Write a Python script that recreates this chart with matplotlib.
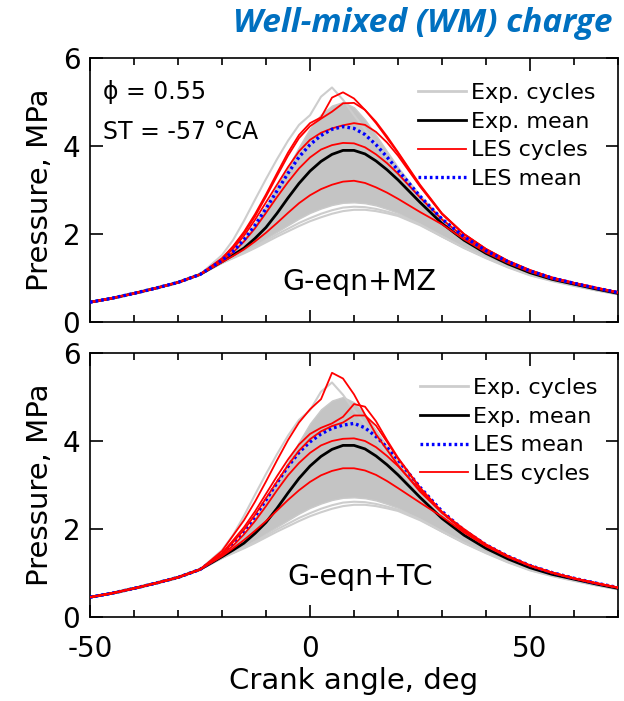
import matplotlib.pyplot as plt
from matplotlib.lines import Line2D
from matplotlib.ticker import MultipleLocator

plt.rcParams["axes.unicode_minus"] = False

# crank angle grid, deg
ca = [-50, -45, -40, -35, -30, -25, -20, -17.5, -15, -12.5, -10, -7.5, -5, -2.5,
      0, 2.5, 5, 7.5, 10, 12.5, 15, 17.5, 20, 25, 30, 35, 40, 45, 50, 55, 60, 65, 70]

# compression stroke, common to every cycle (-50 .. -25 deg), MPa
p_comp = [0.45, 0.54, 0.65, 0.77, 0.90, 1.08]

# everything below: values at -20 .. 70 deg, MPa
# experiment (same cycles in both panels)
exp_mean = [1.37, 1.52, 1.68, 1.90, 2.15, 2.47, 2.82, 3.15, 3.43, 3.65, 3.81, 3.90, 3.90, 3.82,
            3.66, 3.46, 3.23, 2.72, 2.24, 1.86, 1.56, 1.32, 1.12, 0.97, 0.86, 0.75, 0.65]
exp_band_hi = [1.42, 1.62, 1.90, 2.25, 2.65, 3.08, 3.52, 3.98, 4.40, 4.72, 4.92, 5.00, 4.88, 4.60,
               4.25, 3.88, 3.52, 2.88, 2.36, 1.94, 1.62, 1.37, 1.16, 1.00, 0.88, 0.77, 0.67]
exp_band_lo = [1.35, 1.48, 1.60, 1.74, 1.90, 2.05, 2.20, 2.35, 2.48, 2.58, 2.66, 2.71, 2.72, 2.70,
               2.65, 2.57, 2.48, 2.22, 1.94, 1.69, 1.47, 1.27, 1.09, 0.95, 0.84, 0.73, 0.64]
exp_top_cycle = [1.52, 1.86, 2.30, 2.78, 3.25, 3.70, 4.12, 4.48, 4.70, 5.12, 5.33, 5.05, 4.70, 4.38,
                 4.05, 3.72, 3.40, 2.78, 2.28, 1.88, 1.58, 1.34, 1.14, 0.98, 0.87, 0.76, 0.66]
exp_low_cycle_1 = [1.34, 1.45, 1.56, 1.68, 1.81, 1.94, 2.06, 2.18, 2.29, 2.38, 2.46, 2.52, 2.55, 2.55,
                   2.52, 2.47, 2.41, 2.20, 1.94, 1.68, 1.45, 1.24, 1.06, 0.93, 0.82, 0.72, 0.63]
exp_low_cycle_2 = [1.35, 1.46, 1.58, 1.71, 1.85, 1.99, 2.12, 2.25, 2.36, 2.46, 2.54, 2.60, 2.62, 2.61,
                   2.57, 2.51, 2.44, 2.22, 1.95, 1.69, 1.46, 1.25, 1.07, 0.94, 0.83, 0.72, 0.63]

# LES, G-eqn+MZ
les_mean_mz = [1.40, 1.60, 1.87, 2.20, 2.58, 2.98, 3.38, 3.75, 4.03, 4.24, 4.38, 4.44, 4.40, 4.26,
               4.03, 3.75, 3.45, 2.86, 2.34, 1.94, 1.62, 1.37, 1.16, 1.00, 0.88, 0.77, 0.67]
les_mz_1 = [1.45, 1.72, 2.05, 2.45, 2.90, 3.38, 3.85, 4.25, 4.52, 4.65, 5.10, 5.22, 5.08, 4.82,
            4.52, 4.18, 3.84, 3.10, 2.46, 2.00, 1.66, 1.39, 1.18, 1.01, 0.89, 0.78, 0.68]
les_mz_2 = [1.44, 1.70, 2.02, 2.40, 2.85, 3.32, 3.78, 4.18, 4.45, 4.62, 4.78, 4.97, 4.98, 4.82,
            4.55, 4.22, 3.86, 3.12, 2.47, 2.00, 1.66, 1.39, 1.18, 1.01, 0.89, 0.78, 0.68]
les_mz_3 = [1.42, 1.66, 1.96, 2.32, 2.72, 3.12, 3.52, 3.88, 4.14, 4.30, 4.40, 4.47, 4.52, 4.48,
            4.32, 4.08, 3.78, 3.08, 2.45, 1.99, 1.65, 1.38, 1.17, 1.01, 0.89, 0.78, 0.68]
les_mz_4 = [1.40, 1.58, 1.83, 2.13, 2.48, 2.84, 3.18, 3.49, 3.74, 3.92, 4.02, 4.07, 4.06, 3.97,
            3.81, 3.61, 3.37, 2.83, 2.33, 1.93, 1.62, 1.37, 1.16, 1.00, 0.88, 0.77, 0.67]
les_mz_5 = [1.36, 1.50, 1.65, 1.83, 2.03, 2.25, 2.48, 2.70, 2.88, 3.02, 3.12, 3.19, 3.21, 3.16,
            3.06, 2.94, 2.80, 2.50, 2.22, 1.88, 1.58, 1.34, 1.14, 0.98, 0.87, 0.76, 0.66]

# LES, G-eqn+TC
les_mean_tc = [1.42, 1.68, 1.95, 2.28, 2.66, 3.05, 3.42, 3.74, 3.98, 4.16, 4.29, 4.36, 4.40, 4.30,
               4.10, 3.86, 3.57, 2.95, 2.40, 1.97, 1.64, 1.38, 1.17, 1.01, 0.88, 0.77, 0.67]
les_tc_1 = [1.50, 1.85, 2.20, 2.62, 3.08, 3.56, 4.02, 4.42, 4.72, 4.95, 5.55, 5.42, 5.06, 4.60,
            4.15, 3.80, 3.45, 2.85, 2.37, 2.00, 1.65, 1.38, 1.17, 1.01, 0.88, 0.77, 0.67]
les_tc_2 = [1.45, 1.74, 2.04, 2.40, 2.80, 3.20, 3.58, 3.92, 4.16, 4.30, 4.40, 4.55, 4.84, 4.78,
            4.45, 4.02, 3.62, 2.94, 2.39, 1.97, 1.64, 1.38, 1.17, 1.01, 0.88, 0.77, 0.67]
les_tc_3 = [1.43, 1.70, 1.98, 2.32, 2.70, 3.08, 3.45, 3.78, 4.04, 4.22, 4.34, 4.42, 4.58, 4.58,
            4.35, 3.98, 3.60, 2.93, 2.38, 1.96, 1.64, 1.38, 1.17, 1.01, 0.88, 0.77, 0.67]
les_tc_4 = [1.41, 1.62, 1.88, 2.18, 2.52, 2.88, 3.22, 3.50, 3.73, 3.90, 4.00, 4.05, 4.06, 4.00,
            3.86, 3.66, 3.43, 2.88, 2.37, 1.95, 1.63, 1.38, 1.17, 1.01, 0.88, 0.77, 0.67]
les_tc_5 = [1.38, 1.56, 1.75, 1.96, 2.18, 2.42, 2.66, 2.88, 3.07, 3.22, 3.32, 3.38, 3.38, 3.33,
            3.23, 3.09, 2.93, 2.60, 2.28, 1.92, 1.61, 1.36, 1.16, 1.00, 0.87, 0.76, 0.66]


def full(p):
    return p_comp + p


def draw_panel(ax, les_mean, les_cycles, model, red_on_top):
    ax.fill_between(ca, full(exp_band_lo), full(exp_band_hi), color="#c4c4c4",
                    edgecolor="#c9c9c9", lw=1.0, zorder=1)
    for c in (exp_low_cycle_1, exp_low_cycle_2, exp_top_cycle):
        ax.plot(ca, full(c), color="#cdcdcd", lw=1.5, zorder=2)
    ax.plot(ca, full(exp_mean), color="black", lw=2.0, zorder=3)
    zr, zb = (5, 4) if red_on_top else (4, 5)
    for c in les_cycles:
        ax.plot(ca, full(c), color="red", lw=1.3, zorder=zr)
    ax.plot(ca, full(les_mean), color="blue", lw=2.4, ls=(0, (0.8, 0.9)), zorder=zb)

    ax.set_xlim(-50, 70)
    ax.set_ylim(0, 6)
    ax.set_xticks([-50, 0, 50])
    ax.xaxis.set_minor_locator(MultipleLocator(10))
    ax.set_yticks([0, 2, 4, 6])
    ax.tick_params(which="both", direction="in", top=True, right=True, width=1.2,
                   labelsize=20, pad=7)
    ax.tick_params(axis="x", which="both", pad=13)
    ax.tick_params(which="major", length=9)
    ax.tick_params(which="minor", length=5)
    for s in ax.spines.values():
        s.set_linewidth(1.2)
    ax.set_ylabel("Pressure, MPa", fontsize=21, labelpad=6)
    ax.text(0.511, 0.152, model, transform=ax.transAxes, fontsize=20.5,
            ha="center", va="center")


fig = plt.figure(figsize=(6.24, 7.01), dpi=100)
ax1 = fig.add_axes([90 / 624, 1 - 322 / 701, 528 / 624, 264 / 701])
ax2 = fig.add_axes([90 / 624, 1 - 617 / 701, 528 / 624, 264 / 701])

draw_panel(ax1, les_mean_mz, [les_mz_1, les_mz_2, les_mz_3, les_mz_4, les_mz_5],
           "G-eqn+MZ", red_on_top=False)
draw_panel(ax2, les_mean_tc, [les_tc_1, les_tc_2, les_tc_3, les_tc_4, les_tc_5],
           "G-eqn+TC", red_on_top=True)
ax1.tick_params(labelbottom=False)
ax2.set_xlabel("Crank angle, deg", fontsize=21, labelpad=3)

ax1.text(0.025, 0.871, "ϕ = 0.55", transform=ax1.transAxes, fontsize=17, va="center")
ax1.text(0.025, 0.72, "ST = -57 °CA", transform=ax1.transAxes, fontsize=17, va="center")

h_exp = Line2D([], [], color="#cdcdcd", lw=2)
h_mean = Line2D([], [], color="black", lw=2)
h_les = Line2D([], [], color="red", lw=1.3)
h_lesm = Line2D([], [], color="blue", lw=2.4, ls=(0, (0.8, 0.9)))
leg_kw = dict(loc="upper left", frameon=False, fontsize=16, handlelength=2.15,
              handletextpad=0.22, labelspacing=0.39, borderpad=0, borderaxespad=0)
ax1.legend([h_exp, h_mean, h_les, h_lesm],
           ["Exp. cycles", "Exp. mean", "LES cycles", "LES mean"],
           bbox_to_anchor=(0.621, 0.905), **leg_kw)
ax2.legend([h_exp, h_mean, h_lesm, h_les],
           ["Exp. cycles", "Exp. mean", "LES mean", "LES cycles"],
           bbox_to_anchor=(0.625, 0.905), **leg_kw)

fig.text(0.678, 0.966, "Well-mixed (WM) charge", color="#0070c0", fontsize=24,
         fontweight="bold", style="italic", family=["Open Sans", "DejaVu Sans"],
         ha="center", va="center")

fig.savefig("out.png", dpi=100)
